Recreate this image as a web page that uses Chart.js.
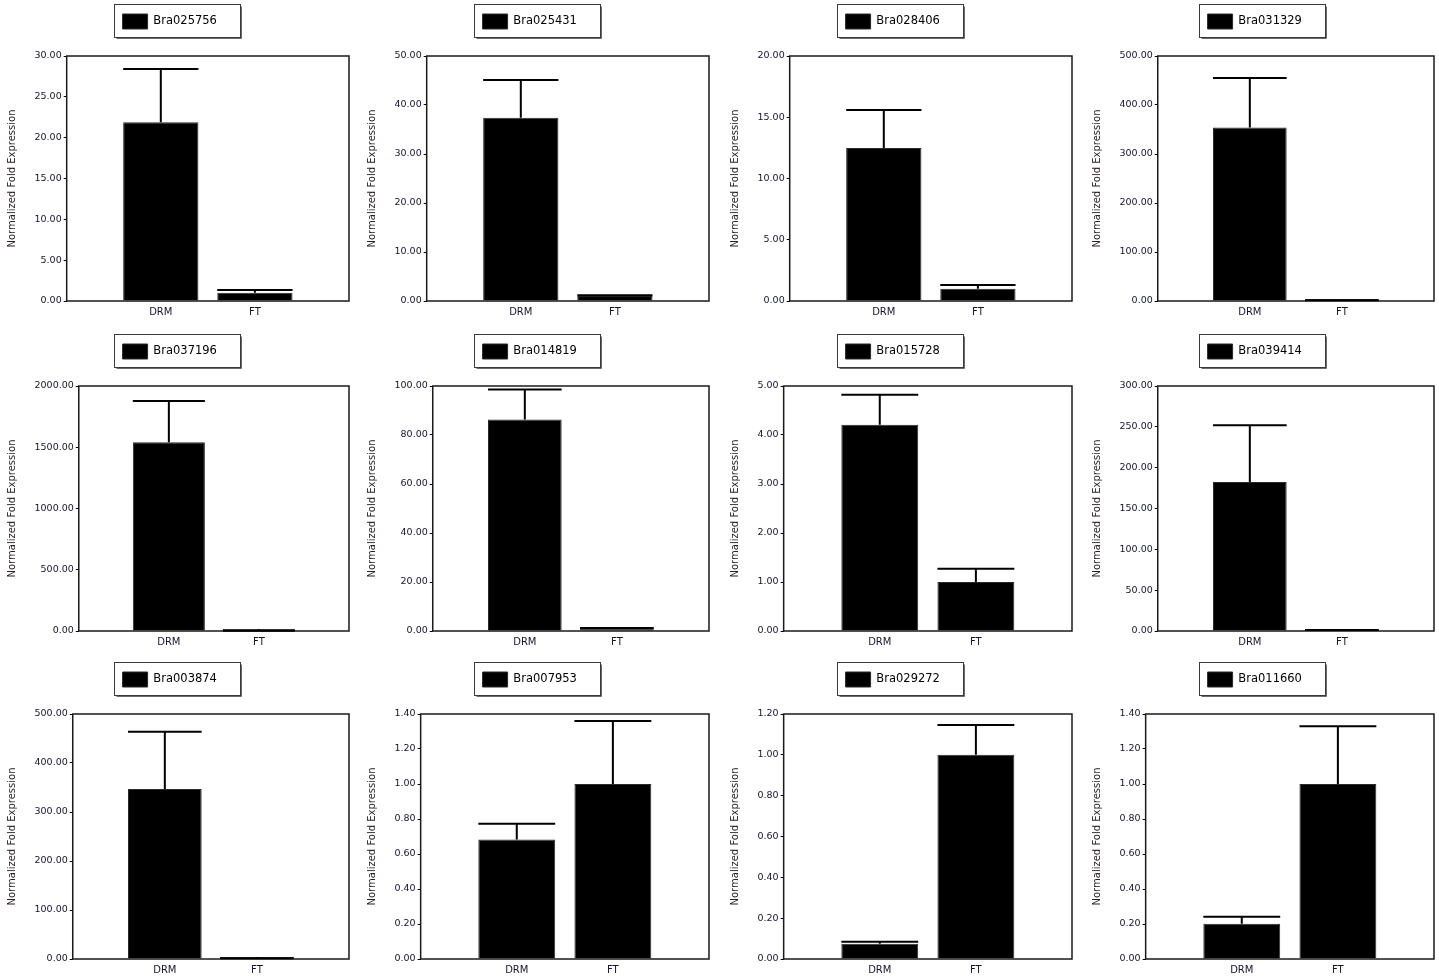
<!DOCTYPE html>
<html lang="en">
<head>
<meta charset="UTF-8">
<title>Normalized Fold Expression - DRM vs FT</title>
<script src="https://cdn.jsdelivr.net/npm/chart.js@4/dist/chart.umd.min.js"></script>
<style>
    html, body { margin: 0; padding: 0; background: #fff; overflow: hidden; }
    #wrap { position: relative; width: 1439px; height: 978px; overflow: hidden; }
    #wrap canvas { position: absolute; }
</style>
</head>
<body>
<div id="wrap"></div>

<script>
    // values (FT is the calibrator, so it sits at 1.0)
    const genes = ['Bra025756', 'Bra025431', 'Bra028406', 'Bra031329',
                   'Bra037196', 'Bra014819', 'Bra015728', 'Bra039414',
                   'Bra003874', 'Bra007953', 'Bra029272', 'Bra011660'];
    const conditions = ['DRM', 'FT'];
    const drmMean = [21.9, 37.4, 12.5, 354, 1541, 86.3, 4.21, 182.4, 347, 0.683, 0.075, 0.202];
    const drmErr  = [6.5, 7.7, 3.1, 101, 336, 12.3, 0.61, 69.6, 117, 0.09, 0.009, 0.04];
    const ftMean  = [1.0, 1.0, 1.0, 1.0, 1.0, 1.0, 1.0, 1.0, 1.0, 1.0, 1.0, 1.0];
    const ftErr   = [0.35, 0.15, 0.3, 0.3, 0.5, 0.2, 0.27, 0.3, 0.3, 0.36, 0.146, 0.33];
    const yMax    = [30, 50, 20, 500, 2000, 100, 5, 300, 500, 1.4, 1.2, 1.4];
    const yStep   = [5, 10, 5, 100, 500, 20, 1, 50, 100, 0.2, 0.2, 0.2];

    // panel placement
    const colLeft = [0, 360, 723, 1085];
    const rowTop = [0, 330, 658];
    const W = 361, H = 326;

    Chart.defaults.font.family = "'DejaVu Sans', Verdana, sans-serif";
    Chart.defaults.color = '#14142e';

    // box around the legend, shifted a bit left like the original
    const legendFrame = {
        id: 'legendFrame',
        afterLayout(chart) {
            chart.legend.left -= 6;
            chart.legend.right -= 6;
        },
        afterDraw(chart) {
            const hb = chart.legend.legendHitBoxes[0];
            if (!hb) return;
            const ctx = chart.ctx;
            const x = Math.round(hb.left - 9) + 0.5;
            const y = Math.round(hb.top - 10) + 0.5;
            const w = Math.round(hb.width + 32), h = 33;
            ctx.save();
            ctx.strokeStyle = '#3a3a3a';
            ctx.lineWidth = 1;
            ctx.strokeRect(x, y, w, h);
            ctx.strokeStyle = '#6a6a6a';
            ctx.beginPath();
            ctx.moveTo(x + w + 1, y + 2);
            ctx.lineTo(x + w + 1, y + h + 1);
            ctx.lineTo(x + 2, y + h + 1);
            ctx.stroke();
            ctx.restore();
        }
    };

    // plot frame + one-sided error bars
    const errorBars = {
        id: 'errorBars',
        afterDatasetsDraw(chart) {
            const { ctx, chartArea: a, scales: { y } } = chart;
            ctx.save();
            ctx.strokeStyle = '#1a1a1a';
            ctx.lineWidth = 1.5;
            ctx.strokeRect(a.left, a.top, a.right - a.left, a.bottom - a.top);

            const ds = chart.data.datasets[0];
            ctx.strokeStyle = '#000';
            ctx.lineWidth = 2;
            chart.getDatasetMeta(0).data.forEach((bar, i) => {
                const v = ds.data[i];
                if (v == null) return;
                const top = y.getPixelForValue(v + ds.errors[i]);
                const half = bar.width / 2;
                ctx.beginPath();
                ctx.moveTo(bar.x, bar.y);
                ctx.lineTo(bar.x, top);
                ctx.moveTo(bar.x - half, top);
                ctx.lineTo(bar.x + half, top);
                ctx.stroke();
            });
            ctx.restore();
        }
    };

    const wrap = document.getElementById('wrap');

    genes.forEach((gene, i) => {
        const cv = document.createElement('canvas');
        cv.width = W;
        cv.height = H;
        cv.style.left = colLeft[i % 4] + 'px';
        cv.style.top = rowTop[Math.floor(i / 4)] + 'px';
        wrap.appendChild(cv);

        new Chart(cv, {
            type: 'bar',
            data: {
                labels: ['', ...conditions, ''],
                datasets: [{
                    label: gene,
                    data: [null, drmMean[i], ftMean[i], null],
                    errors: [0, drmErr[i], ftErr[i], 0],
                    backgroundColor: '#000',
                    borderColor: '#2a2a2a',
                    borderWidth: 1,
                    barPercentage: 0.8,
                    categoryPercentage: 1,
                    minBarLength: 2
                }]
            },
            options: {
                responsive: false,
                animation: false,
                layout: { padding: { top: 4, left: 2.5, right: 12, bottom: 3 } },
                plugins: {
                    legend: {
                        labels: {
                            boxWidth: 25,
                            boxHeight: 15,
                            padding: 10,
                            color: '#000',
                            font: { size: 11.5 }
                        }
                    },
                    tooltip: { enabled: false }
                },
                scales: {
                    x: {
                        offset: false,
                        grid: { display: false, drawTicks: false },
                        border: { display: false },
                        ticks: { padding: 5, font: { size: 10 }, autoSkip: false, maxRotation: 0 }
                    },
                    xTop: {
                        type: 'category',
                        position: 'top',
                        grid: { display: false },
                        border: { display: false },
                        ticks: { display: false },
                        afterFit(s) { s.height = 17; }
                    },
                    y: {
                        min: 0,
                        max: yMax[i],
                        ticks: {
                            stepSize: yStep[i],
                            padding: 2,
                            font: { size: 9.5 },
                            callback: v => v.toFixed(2)
                        },
                        grid: { drawOnChartArea: false, tickLength: 3, color: '#000' },
                        border: { display: false },
                        title: {
                            display: true,
                            text: 'Normalized Fold Expression',
                            color: '#2a2222',
                            font: { size: 10 },
                            padding: { top: 4, bottom: 14 }
                        }
                    }
                }
            },
            plugins: [legendFrame, errorBars]
        });
    });
</script>
</body>
</html>
